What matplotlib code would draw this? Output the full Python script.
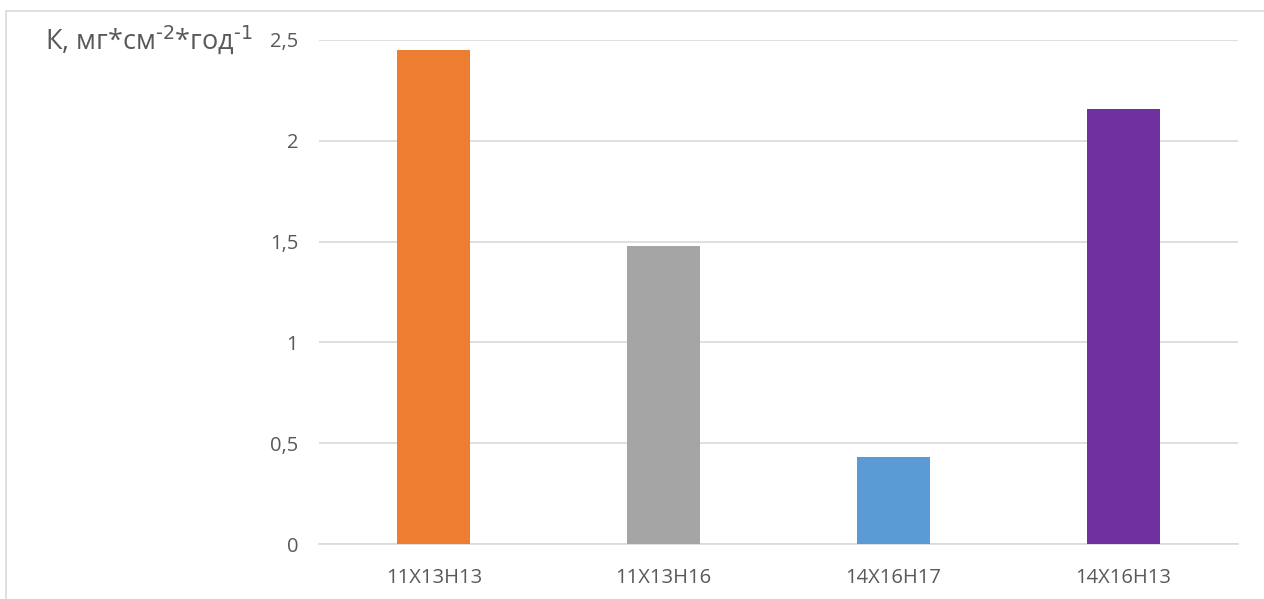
import matplotlib
matplotlib.use('Agg')
import matplotlib.pyplot as plt
from matplotlib.patches import Rectangle

# Corrosion rate per alloy
alloys = ['11Х13Н13', '11Х13Н16', '14Х16Н17', '14Х16Н13']
rates = [2.45, 1.48, 0.43, 2.16]
bar_colors = ['#ED7D31', '#A5A5A5', '#5B9BD5', '#7030A0']
y_ticks = [0, 0.5, 1, 1.5, 2, 2.5]
y_tick_labels = ['0', '0,5', '1', '1,5', '2', '2,5']

plt.rcParams['font.family'] = ['Open Sans', 'DejaVu Sans']
text_color = '#595959'
grid_color = '#D9D9D9'

W, H = 1264, 599
fig = plt.figure(figsize=(W / 100, H / 100), dpi=100)

# outer chart frame, runs off the right and bottom edges
fig.patches.append(Rectangle((6 / W, -0.1), 1.2, 1 - 11 / H + 0.1,
                             transform=fig.transFigure, fill=False,
                             edgecolor=grid_color, linewidth=1.2))

ax = fig.add_axes([319 / W, 55 / H, 919 / W, 504 / H])
x = range(len(alloys))
ax.bar(x, rates, width=0.318, color=bar_colors, zorder=3)

ax.set_xlim(-0.5, len(alloys) - 0.5)
ax.set_ylim(0, 2.5)
ax.set_yticks(y_ticks)
ax.set_yticklabels(y_tick_labels)
ax.set_xticks(list(x))
ax.set_xticklabels(alloys)
ax.grid(axis='y', color=grid_color, linewidth=1.2, zorder=0)
ax.tick_params(axis='both', length=0, colors=text_color, labelsize=14.5)
ax.tick_params(axis='y', pad=15)
ax.tick_params(axis='x', pad=17)
for side in ['top', 'right', 'left']:
    ax.spines[side].set_visible(False)
ax.spines['bottom'].set_color(grid_color)
ax.spines['bottom'].set_linewidth(1.2)

fig.text(45 / W, 1 - 40 / H, r'К, мг*см$^{\text{-2}}$*год$^{\text{-1}}$',
         color=text_color, fontsize=19.5, ha='left', va='center')

fig.savefig('out.png', dpi=100)
